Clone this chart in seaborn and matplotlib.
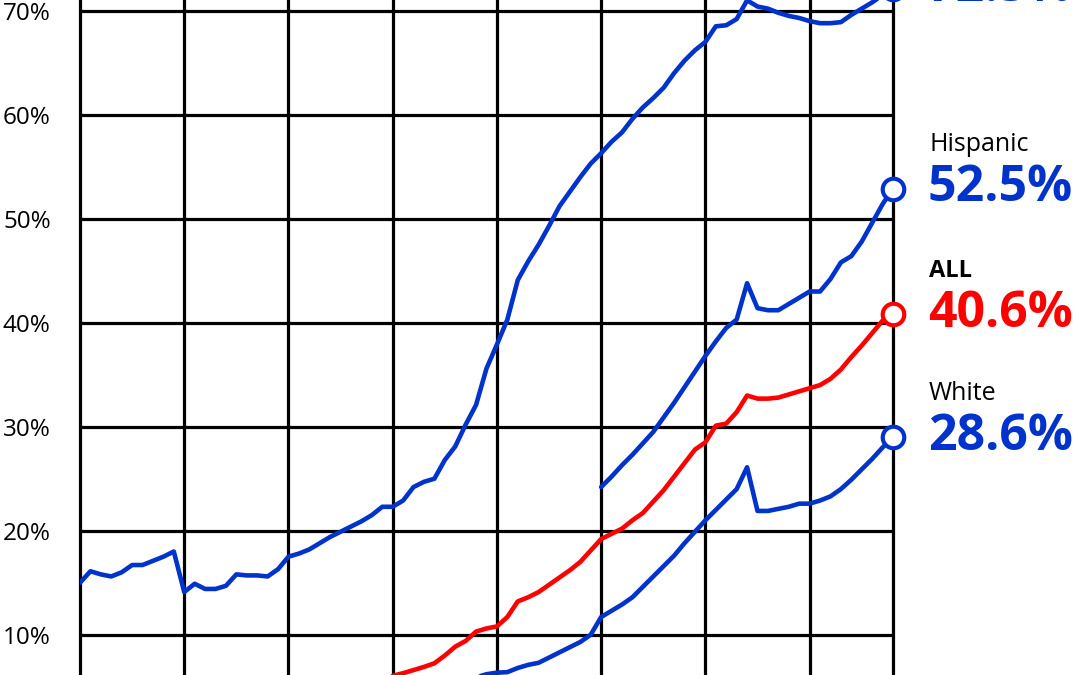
import matplotlib
matplotlib.use("Agg")
import matplotlib.pyplot as plt
import pandas as pd
import seaborn as sns

# Births to unmarried women, share of all births (%)

black_years = list(range(1930, 2009))
black_pct = [
    15.0, 16.1, 15.8, 15.6, 16.0, 16.7, 16.7, 17.1, 17.5, 18.0,
    14.1, 14.9, 14.4, 14.4, 14.7, 15.8, 15.7, 15.7, 15.6, 16.3,
    17.5, 17.8, 18.2, 18.8, 19.4, 19.9, 20.4, 20.9, 21.5, 22.3,
    22.3, 22.9, 24.2, 24.7, 25.0, 26.8, 28.1, 30.2, 32.1, 35.6,
    37.9, 40.3, 44.1, 45.9, 47.5, 49.3, 51.2, 52.6, 54.0, 55.3,
    56.3, 57.4, 58.3, 59.6, 60.7, 61.6, 62.6, 64.0, 65.2, 66.2,
    67.0, 68.5, 68.6, 69.2, 71.0, 70.4, 70.2, 69.8, 69.5, 69.3,
    69.0, 68.8, 68.8, 68.9, 69.6, 70.2, 70.8, 71.5, 72.1,
]

all_years = list(range(1960, 2009))
all_pct = [
    6.05, 6.3, 6.6, 6.9, 7.25, 8.0, 8.85, 9.4, 10.3, 10.6,
    10.8, 11.7, 13.2, 13.6, 14.1, 14.8, 15.5, 16.2, 17.0, 18.1,
    19.2, 19.7, 20.2, 21.0, 21.7, 22.8, 23.9, 25.2, 26.5, 27.8,
    28.5, 30.1, 30.3, 31.4, 33.0, 32.7, 32.7, 32.8, 33.1, 33.4,
    33.7, 34.0, 34.6, 35.5, 36.7, 37.8, 39.0, 40.2, 40.8,
]

hispanic_years = list(range(1980, 2009))
hispanic_pct = [
    24.2, 25.2, 26.3, 27.3, 28.4, 29.5, 30.9, 32.3, 33.8, 35.3,
    36.8, 38.2, 39.5, 40.3, 43.8, 41.4, 41.2, 41.2, 41.8, 42.4,
    43.0, 43.0, 44.2, 45.8, 46.4, 47.8, 49.6, 51.4, 52.9,
]

white_years = list(range(1968, 2009))
white_pct = [
    5.9, 6.2,
    6.35, 6.4, 6.8, 7.1, 7.3, 7.8, 8.3, 8.8, 9.3, 10.0,
    11.7, 12.3, 12.9, 13.6, 14.6, 15.6, 16.6, 17.6, 18.8, 19.9,
    21.0, 22.0, 23.0, 24.0, 26.1, 21.9, 21.9, 22.1, 22.3, 22.6,
    22.6, 22.9, 23.3, 24.0, 24.9, 25.9, 26.9, 28.0, 29.0,
]

groups = ["Black", "Hispanic", "ALL", "White"]
end_labels = ["72.3%", "52.5%", "40.6%", "28.6%"]
y_ticks = [10, 20, 30, 40, 50, 60, 70]

BLUE = "#0033cc"
RED = "#ff0000"
palette = {"Black": BLUE, "Hispanic": BLUE, "ALL": RED, "White": BLUE}

frames = []
for name, yrs, vals in [("Black", black_years, black_pct),
                        ("Hispanic", hispanic_years, hispanic_pct),
                        ("ALL", all_years, all_pct),
                        ("White", white_years, white_pct)]:
    frames.append(pd.DataFrame({"year": yrs, "pct": vals, "group": name}))
df = pd.concat(frames, ignore_index=True)

sns.set_theme(style="white")
plt.rcParams["font.family"] = ["Open Sans", "DejaVu Sans"]

fig = plt.figure(figsize=(10.8, 6.75), dpi=100)
ax = fig.add_axes([80 / 1080, 0, 813 / 1080, 1])

sns.lineplot(data=df, x="year", y="pct", hue="group", palette=palette,
             linewidth=3.3, legend=False, ax=ax, zorder=3)

ax.set_xlim(1930, 2008)
ax.set_ylim(6.125, 71.03)
ax.set_xticks(range(1940, 2001, 10))
ax.set_yticks(y_ticks)
ax.set_yticklabels([f"{v}%" for v in y_ticks])
ax.tick_params(length=0, labelbottom=False, labelsize=17.5, pad=21, labelcolor="black")
ax.grid(True, color="black", linewidth=2.3)
ax.set_axisbelow(True)
ax.set_xlabel("")
ax.set_ylabel("")
for side in ["top", "bottom"]:
    ax.spines[side].set_visible(False)
for side in ["left", "right"]:
    ax.spines[side].set_color("black")
    ax.spines[side].set_linewidth(2.3)

# end circles and labels
for name, lab in zip(groups, end_labels):
    last = df[df["group"] == name].iloc[-1]
    color = palette[name]
    ax.plot(last["year"], last["pct"], marker="o", markersize=15.5,
            markerfacecolor="white", markeredgecolor=color,
            markeredgewidth=3.0, clip_on=False, zorder=5)
    ax.annotate(lab, (last["year"], last["pct"]), xytext=(25, -9),
                textcoords="offset points", va="baseline", ha="left",
                fontsize=36, fontweight="bold", color=color,
                annotation_clip=False)
    ax.annotate(name, (last["year"], last["pct"]), xytext=(26, 27),
                textcoords="offset points", va="baseline", ha="left",
                fontsize=17 if name == "ALL" else 18,
                fontweight="bold" if name == "ALL" else "normal",
                color="black", annotation_clip=False)

fig.savefig("out.png", dpi=100)
